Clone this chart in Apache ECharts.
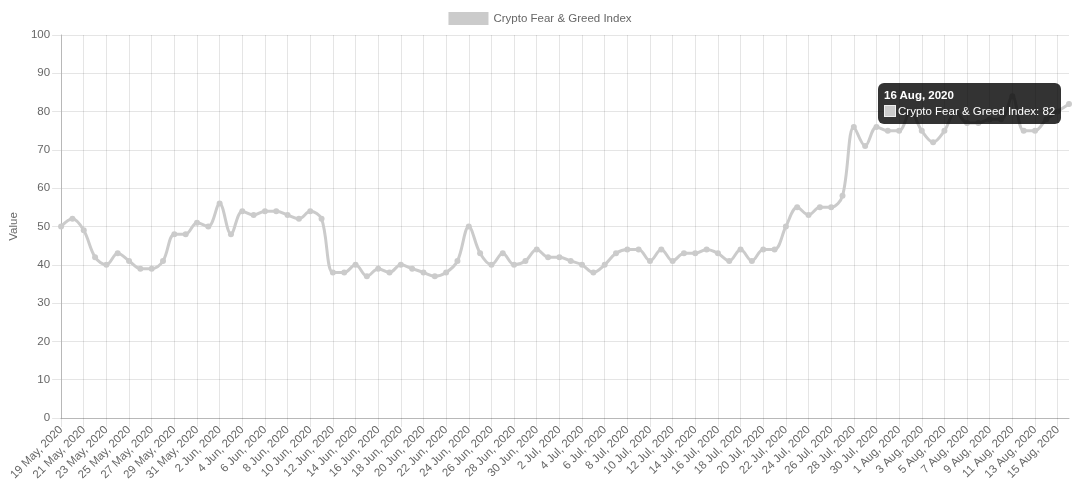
<!DOCTYPE html>
<html>
<head>
<meta charset="utf-8">
<script src="https://cdn.jsdelivr.net/npm/echarts@6/dist/echarts.min.js"></script>
<style>
  html, body { margin: 0; padding: 0; background: #fff; }
  #chart { width: 1080px; height: 490px; }
</style>
</head>
<body>
<div id="chart"></div>
<script>
const seriesName = 'Crypto Fear & Greed Index'

const dates = [
  '19 May, 2020', '20 May, 2020', '21 May, 2020', '22 May, 2020', '23 May, 2020', '24 May, 2020',
  '25 May, 2020', '26 May, 2020', '27 May, 2020', '28 May, 2020', '29 May, 2020', '30 May, 2020',
  '31 May, 2020', '1 Jun, 2020', '2 Jun, 2020', '3 Jun, 2020', '4 Jun, 2020', '5 Jun, 2020',
  '6 Jun, 2020', '7 Jun, 2020', '8 Jun, 2020', '9 Jun, 2020', '10 Jun, 2020', '11 Jun, 2020',
  '12 Jun, 2020', '13 Jun, 2020', '14 Jun, 2020', '15 Jun, 2020', '16 Jun, 2020', '17 Jun, 2020',
  '18 Jun, 2020', '19 Jun, 2020', '20 Jun, 2020', '21 Jun, 2020', '22 Jun, 2020', '23 Jun, 2020',
  '24 Jun, 2020', '25 Jun, 2020', '26 Jun, 2020', '27 Jun, 2020', '28 Jun, 2020', '29 Jun, 2020',
  '30 Jun, 2020', '1 Jul, 2020', '2 Jul, 2020', '3 Jul, 2020', '4 Jul, 2020', '5 Jul, 2020',
  '6 Jul, 2020', '7 Jul, 2020', '8 Jul, 2020', '9 Jul, 2020', '10 Jul, 2020', '11 Jul, 2020',
  '12 Jul, 2020', '13 Jul, 2020', '14 Jul, 2020', '15 Jul, 2020', '16 Jul, 2020', '17 Jul, 2020',
  '18 Jul, 2020', '19 Jul, 2020', '20 Jul, 2020', '21 Jul, 2020', '22 Jul, 2020', '23 Jul, 2020',
  '24 Jul, 2020', '25 Jul, 2020', '26 Jul, 2020', '27 Jul, 2020', '28 Jul, 2020', '29 Jul, 2020',
  '30 Jul, 2020', '31 Jul, 2020', '1 Aug, 2020', '2 Aug, 2020', '3 Aug, 2020', '4 Aug, 2020',
  '5 Aug, 2020', '6 Aug, 2020', '7 Aug, 2020', '8 Aug, 2020', '9 Aug, 2020', '10 Aug, 2020',
  '11 Aug, 2020', '12 Aug, 2020', '13 Aug, 2020', '14 Aug, 2020', '15 Aug, 2020', '16 Aug, 2020'
]

const indexValues = [
  50, 52, 49, 42, 40, 43, 41, 39, 39, 41, 48, 48,
  51, 50, 56, 48, 54, 53, 54, 54, 53, 52, 54, 52,
  38, 38, 40, 37, 39, 38, 40, 39, 38, 37, 38, 41,
  50, 43, 40, 43, 40, 41, 44, 42, 42, 41, 40, 38,
  40, 43, 44, 44, 41, 44, 41, 43, 43, 44, 43, 41,
  44, 41, 44, 44, 50, 55, 53, 55, 55, 58, 76, 71,
  76, 75, 75, 80, 75, 72, 75, 80, 77, 77, 78, 78,
  84, 75, 75, 78, 80, 82
]

const yTicks = { min: 0, max: 100, step: 10 }

const font = "'Liberation Sans', Helvetica, Arial, sans-serif"
const fontSize = 11.5
const lineColor = '#cbcbcb'
const gridColor = 'rgba(0,0,0,0.1)'

const chart = echarts.init(document.getElementById('chart'), null, { renderer: 'canvas' })

// fixed tooltip, like the hovered state in the reference
const hoverIndex = indexValues.length - 1

const option = {
  animation: false,
  textStyle: { fontFamily: font },
  legend: {
    data: [{ name: seriesName, icon: 'rect', itemStyle: { color: lineColor, borderWidth: 0 } }],
    left: 'center',
    top: 12,
    padding: 0,
    itemWidth: 40,
    itemHeight: 13,
    itemGap: 10,
    selectedMode: false,
    textStyle: { color: '#666', fontSize: fontSize, fontFamily: font }
  },
  tooltip: {
    show: true,
    trigger: 'item',
    triggerOn: 'none',
    alwaysShowContent: true,
    transitionDuration: 0,
    position: [878, 83],
    backgroundColor: 'rgba(0,0,0,0.8)',
    borderWidth: 0,
    padding: [6, 6],
    extraCssText: 'border-radius:6px;box-shadow:none;',
    formatter: function (p) {
      const f = fontSize + 'px ' + font.replace(/"/g, '')
      return '<div style="font:bold ' + f + ';color:#fff;line-height:13px;margin-bottom:3px;">' +
        dates[p.dataIndex] + '</div>' +
        '<div style="font:' + f + ';color:#fff;line-height:13px;white-space:nowrap;">' +
        '<span style="display:inline-block;width:10px;height:10px;background:' + lineColor +
        ';border:1px solid #eee;vertical-align:-2px;margin-right:2px;"></span>' +
        seriesName + ': ' + p.value + '</div>'
    }
  },
  grid: {
    left: 60,
    right: 11,
    top: 35,
    bottom: 72,
    containLabel: false
  },
  xAxis: {
    type: 'category',
    data: dates,
    boundaryGap: false,
    axisLine: { show: true, lineStyle: { color: '#b8b8b8', width: 1 } },
    axisTick: { show: true, interval: 1, length: 9, lineStyle: { color: gridColor } },
    axisLabel: {
      interval: 1,
      rotate: 45,
      margin: 10,
      color: '#666',
      fontSize: fontSize,
      fontFamily: font
    },
    splitLine: { show: true, interval: 1, lineStyle: { color: gridColor, width: 1 } }
  },
  yAxis: {
    type: 'value',
    min: yTicks.min,
    max: yTicks.max,
    interval: yTicks.step,
    name: 'Value',
    nameLocation: 'middle',
    nameGap: 39,
    nameTextStyle: { color: '#666', fontSize: fontSize, fontFamily: font },
    axisLine: { show: true, lineStyle: { color: '#b8b8b8', width: 1 } },
    axisTick: { show: true, length: 9, lineStyle: { color: gridColor } },
    axisLabel: { margin: 11, color: '#666', fontSize: fontSize, fontFamily: font },
    splitLine: { show: true, lineStyle: { color: gridColor, width: 1 } }
  },
  series: [
    {
      name: seriesName,
      type: 'line',
      data: indexValues,
      smooth: 0.35,
      symbol: 'circle',
      symbolSize: 6,
      showAllSymbol: true,
      lineStyle: { color: lineColor, width: 3 },
      itemStyle: { color: lineColor, borderWidth: 0 },
      emphasis: { scale: 1.4, itemStyle: { color: '#bbb' } }
    }
  ]
}

chart.setOption(option)
chart.dispatchAction({ type: 'showTip', seriesIndex: 0, dataIndex: hoverIndex })
</script>
</body>
</html>
